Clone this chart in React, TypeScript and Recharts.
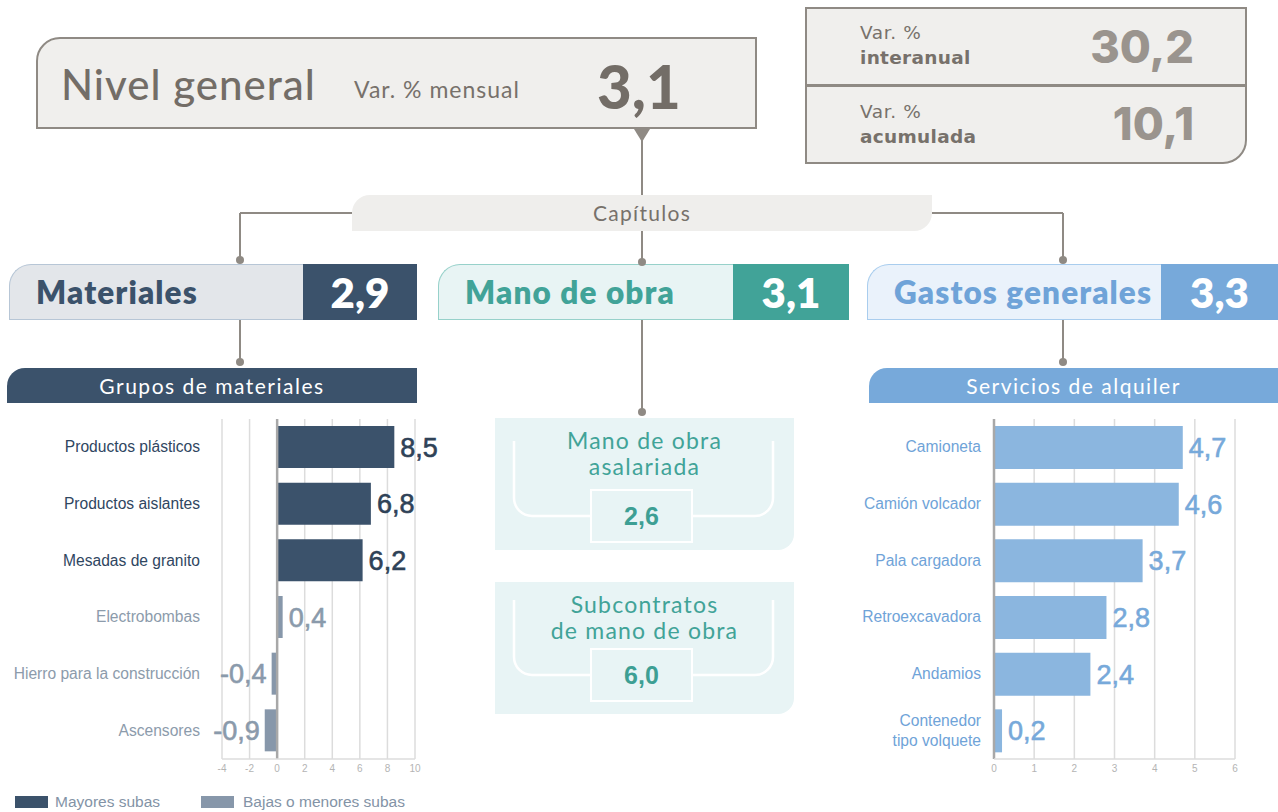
import { BarChart, Bar, XAxis, YAxis, CartesianGrid, ReferenceLine, Cell, LabelList } from 'recharts';

// valores del informe
const nivelGeneral = 3.1;
const varInteranual = 30.2;
const varAcumulada = 10.1;

const chapterNames = ['Materiales', 'Mano de obra', 'Gastos generales'];
const chapterValues = [2.9, 3.1, 3.3];

const materialCategories = [
  'Productos plásticos',
  'Productos aislantes',
  'Mesadas de granito',
  'Electrobombas',
  'Hierro para la construcción',
  'Ascensores',
];
const materialValues = [8.5, 6.8, 6.2, 0.4, -0.4, -0.9];
const materialGroups = ['mayores', 'mayores', 'mayores', 'menores', 'menores', 'menores'];
const materialTicks = [-4, -2, 0, 2, 4, 6, 8, 10];

const manoDeObraItems = ['Mano de obra\nasalariada', 'Subcontratos\nde mano de obra'];
const manoDeObraValues = [2.6, 6.0];

const alquilerCategories = [
  'Camioneta',
  'Camión volcador',
  'Pala cargadora',
  'Retroexcavadora',
  'Andamios',
  'Contenedor\ntipo volquete',
];
const alquilerValues = [4.7, 4.6, 3.7, 2.8, 2.4, 0.2];
const alquilerTicks = [0, 1, 2, 3, 4, 5, 6];

const legendLabels = ['Mayores subas', 'Bajas o menores subas'];

const materialData = materialCategories.map((name, i) => ({
  name,
  value: materialValues[i],
  group: materialGroups[i],
}));
const alquilerData = alquilerCategories.map((name, i) => ({ name, value: alquilerValues[i] }));

const fmt = (v: number) => v.toFixed(1).replace('.', ',');

const GREY = '#8f8a84';
const NAVY = '#3b526b';
const NAVY_LIGHT = '#8797aa';
const TEAL = '#41a398';
const BLUE = '#77a9da';
const BLUE_BAR = '#8bb6df';

const ROUND = 'Lato, sans-serif';
const WIDE = '"DejaVu Sans", sans-serif';
const NUM = 'Inter, sans-serif';
const ARIAL = '"Liberation Sans", Arial, sans-serif';

const MaterialTick = (props: any) => {
  const { x, y, payload } = props;
  const i = materialCategories.indexOf(payload.value);
  const dark = materialGroups[i] === 'mayores';
  return (
    <text x={x} y={y} dy={5} textAnchor="end" fontSize={15.6} fontFamily={ARIAL} fill={dark ? '#2f4661' : '#8c9bab'}>
      {payload.value}
    </text>
  );
};

const AlquilerTick = (props: any) => {
  const { x, y, payload } = props;
  const lines = String(payload.value).split('\n');
  const start = -((lines.length - 1) * 20) / 2;
  return (
    <text x={x} y={y} textAnchor="end" fontSize={15.6} fontFamily={ARIAL} fill="#6fa3d8">
      {lines.map((l, k) => (
        <tspan key={k} x={x} dy={k === 0 ? start + 5 : 20}>
          {l}
        </tspan>
      ))}
    </text>
  );
};

const valueLabel = (colorFor: (i: number) => string) => (props: any) => {
  const { x, y, width, height, value, index } = props;
  const left = Math.min(x, x + width);
  const right = Math.max(x, x + width);
  const neg = value < 0;
  const c = colorFor(index);
  return (
    <text
      x={neg ? left - 5 : right + 6}
      y={y + height / 2}
      dy={9.5}
      textAnchor={neg ? 'end' : 'start'}
      fontSize={27}
      fontFamily={ARIAL}
      fill={c}
      stroke={c}
      strokeWidth={0.6}
    >
      {fmt(value)}
    </text>
  );
};

const abs = (left: number, top: number, extra: any = {}) => ({ position: 'absolute' as const, left, top, ...extra });

const ChapterBox = ({ left, split, width, name, value, light, border, dark, text }: any) => (
  <div style={abs(left, 264, { width, height: 56, boxSizing: 'border-box' })}>
    <div
      style={abs(0, 0, {
        width: split,
        height: 56,
        background: light,
        border: `1.5px solid ${border}`,
        borderRight: 'none',
        borderTopLeftRadius: 22,
        boxSizing: 'border-box',
      })}
    />
    <div style={abs(split, 0, { width: width - split, height: 56, background: dark })} />
    <div style={abs(27, 0, { lineHeight: '56px', fontFamily: ROUND, fontWeight: 800, fontSize: 31.5, color: text, letterSpacing: 1.1 })}>
      {name}
    </div>
    <div
      style={abs(split, 0, {
        width: width - split,
        textAlign: 'center',
        lineHeight: '56px',
        fontFamily: ROUND,
        fontWeight: 800,
        fontSize: 42,
        color: '#fff',
      })}
    >
      {fmt(value)}
    </div>
  </div>
);

const SubHeader = ({ left, width, label, color }: any) => (
  <div
    style={abs(left, 368, {
      width,
      height: 35,
      background: color,
      borderTopLeftRadius: 18,
      color: '#fff',
      fontFamily: ROUND,
      fontSize: 21,
      lineHeight: '35px',
      textAlign: 'center',
      letterSpacing: 1.5,
    })}
  >
    {label}
  </div>
);

const ManoBox = ({ top, label, value }: any) => (
  <div style={abs(495, top, { width: 299, height: 132, background: '#e8f4f5', borderBottomRightRadius: 16 })}>
    <div
      style={abs(0, 10, {
        width: 299,
        textAlign: 'center',
        fontFamily: ROUND,
        fontSize: 23,
        lineHeight: '25.5px',
        color: TEAL,
        whiteSpace: 'pre-line',
        letterSpacing: 1.2,
      })}
    >
      {label}
    </div>
    <div
      style={abs(95, top === 418 ? 71 : 66, {
        width: 103,
        height: 54,
        boxSizing: 'border-box',
        border: '2.5px solid #fff',
        textAlign: 'center',
        lineHeight: '50px',
        fontFamily: ARIAL,
        fontWeight: 700,
        fontSize: 25,
        color: '#3d9f94',
      })}
    >
      {fmt(value)}
    </div>
  </div>
);

export default function App() {
  return (
    <div style={{ position: 'relative', width: 1278, height: 812, overflow: 'hidden', background: '#fff' }}>
      <style>{'body{margin:0}'}</style>

      {/* Nivel general */}
      <div
        style={abs(36, 37, {
          width: 721,
          height: 92,
          boxSizing: 'border-box',
          background: '#f0efed',
          border: `2.5px solid ${GREY}`,
          borderTopLeftRadius: 24,
        })}
      />
      <div style={abs(61, 55, { fontFamily: ROUND, fontSize: 42, fontWeight: 500, color: '#736d67', lineHeight: '58px', letterSpacing: 1 })}>
        Nivel general
      </div>
      <div style={abs(354, 74, { fontFamily: ROUND, fontSize: 23, color: '#77716b', lineHeight: '30px', letterSpacing: 1 })}>
        Var. % mensual
      </div>
      <div style={abs(597, 48, { fontFamily: ROUND, fontSize: 60, fontWeight: 900, color: '#736d67', lineHeight: '76px' })}>
        {fmt(nivelGeneral)}
      </div>

      {/* interanual / acumulada */}
      <div
        style={abs(805, 7, {
          width: 442,
          height: 157,
          boxSizing: 'border-box',
          background: '#f0efed',
          border: `2.5px solid ${GREY}`,
          borderBottomRightRadius: 24,
        })}
      />
      <div style={abs(806, 84, { width: 440, height: 2.5, background: GREY })} />
      {[
        { top: 20, label: 'interanual', value: varInteranual, vTop: 22 },
        { top: 99, label: 'acumulada', value: varAcumulada, vTop: 99 },
      ].map((r) => (
        <div key={r.label}>
          <div style={abs(860, r.top, { fontFamily: WIDE, fontSize: 18.5, color: '#77716b', lineHeight: '25px', letterSpacing: 0.6 })}>
            Var. %
          </div>
          <div
            style={abs(860, r.top + 25, {
              fontFamily: WIDE,
              fontSize: 18.5,
              fontWeight: 700,
              color: '#77716b',
              lineHeight: '25px',
              letterSpacing: 0.3,
            })}
          >
            {r.label}
          </div>
          <div
            style={abs(1000, r.vTop, {
              width: 194,
              textAlign: 'right',
              fontFamily: NUM,
              fontSize: 45,
              fontWeight: 800,
              color: '#9a948e',
              lineHeight: '50px',
            })}
          >
            {fmt(r.value)}
          </div>
        </div>
      ))}

      {/* Capítulos */}
      <div
        style={abs(352, 195, {
          width: 580,
          height: 36,
          background: '#efeeec',
          borderTopLeftRadius: 18,
          borderBottomRightRadius: 18,
          textAlign: 'center',
          lineHeight: '36px',
          fontFamily: ROUND,
          fontSize: 21,
          color: '#77716b',
          letterSpacing: 1.3,
        })}
      >
        Capítulos
      </div>

      <ChapterBox left={9} split={294} width={408} name={chapterNames[0]} value={chapterValues[0]} light="#e3e6ea" border="#b7c6d6" dark={NAVY} text={NAVY} />
      <ChapterBox left={438} split={295} width={411} name={chapterNames[1]} value={chapterValues[1]} light="#e8f4f4" border="#97d1ca" dark={TEAL} text={TEAL} />
      <ChapterBox left={867} split={294} width={411} name={chapterNames[2]} value={chapterValues[2]} light="#eaf2fb" border="#a9cdee" dark={BLUE} text="#6fa3d8" />

      <SubHeader left={7} width={410} label="Grupos de materiales" color={NAVY} />
      <SubHeader left={869} width={409} label="Servicios de alquiler" color={BLUE} />

      <ManoBox top={418} label={manoDeObraItems[0]} value={manoDeObraValues[0]} />
      <ManoBox top={582} label={manoDeObraItems[1]} value={manoDeObraValues[1]} />

      {/* conectores */}
      <svg width={1278} height={812} style={abs(0, 0, { pointerEvents: 'none' })}>
        <polygon points="634,129 650,129 642,142" fill={GREY} />
        <g stroke={GREY} strokeWidth={2} fill="none">
          <line x1={642} y1={140} x2={642} y2={195} />
          <line x1={642} y1={231} x2={642} y2={262} />
          <line x1={240} y1={213} x2={352} y2={213} />
          <line x1={932} y1={213} x2={1063} y2={213} />
          <line x1={240} y1={213} x2={240} y2={260} />
          <line x1={1063} y1={213} x2={1063} y2={260} />
          <line x1={240} y1={320} x2={240} y2={362} />
          <line x1={1063} y1={320} x2={1063} y2={362} />
          <line x1={642} y1={320} x2={642} y2={412} />
        </g>
        <g fill={GREY}>
          <circle cx={240} cy={260} r={4} />
          <circle cx={1063} cy={260} r={4} />
          <circle cx={642} cy={262} r={4} />
          <circle cx={240} cy={362} r={4} />
          <circle cx={1063} cy={362} r={4} />
          <circle cx={642} cy={412} r={4} />
        </g>
        <g stroke="#fff" strokeWidth={2.5} fill="none">
          <path d="M514,441 V498 A18,18 0 0 0 532,516 H590" />
          <path d="M693,516 H755 A18,18 0 0 0 773,498 V441" />
          <path d="M514,600 V657 A18,18 0 0 0 532,675 H590" />
          <path d="M693,675 H755 A18,18 0 0 0 773,657 V600" />
        </g>
      </svg>

      {/* Grupos de materiales */}
      <div style={abs(0, 419)}>
        <BarChart width={440} height={360} data={materialData} layout="vertical" margin={{ top: 0, right: 25, bottom: 0, left: 0 }}>
          <CartesianGrid horizontal={false} stroke="#dcdcdc" strokeWidth={1.5} />
          <XAxis
            type="number"
            domain={[-4, 10]}
            ticks={materialTicks}
            interval={0}
            height={20}
            axisLine={{ stroke: '#dcdcdc', strokeWidth: 1.5 }}
            tickLine={false}
            tickSize={0}
            tickMargin={6}
            tick={{ fontSize: 10, fill: '#b4b4b4', fontFamily: ARIAL }}
          />
          <YAxis type="category" dataKey="name" width={222} axisLine={false} tickLine={false} tickSize={0} tickMargin={22} tick={MaterialTick} />
          <ReferenceLine x={0} stroke="#a8a8a8" strokeWidth={2.5} />
          <Bar dataKey="value" barSize={42} isAnimationActive={false}>
            {materialData.map((d, i) => (
              <Cell key={i} fill={d.group === 'mayores' ? NAVY : NAVY_LIGHT} />
            ))}
            <LabelList dataKey="value" content={valueLabel((i) => (materialGroups[i] === 'mayores' ? '#2f4257' : '#8a9aab'))} />
          </Bar>
        </BarChart>
      </div>

      {/* Servicios de alquiler */}
      <div style={abs(840, 419)}>
        <BarChart width={438} height={360} data={alquilerData} layout="vertical" margin={{ top: 0, right: 43, bottom: 0, left: 0 }}>
          <CartesianGrid horizontal={false} stroke="#dcdcdc" strokeWidth={1.5} />
          <XAxis
            type="number"
            domain={[0, 6]}
            ticks={alquilerTicks}
            interval={0}
            height={20}
            axisLine={{ stroke: '#dcdcdc', strokeWidth: 1.5 }}
            tickLine={false}
            tickSize={0}
            tickMargin={6}
            tick={{ fontSize: 10, fill: '#b4b4b4', fontFamily: ARIAL }}
          />
          <YAxis type="category" dataKey="name" width={154} axisLine={false} tickLine={false} tickSize={0} tickMargin={13} tick={AlquilerTick} />
          <ReferenceLine x={0} stroke="#a8a8a8" strokeWidth={2.5} />
          <Bar dataKey="value" barSize={43} fill={BLUE_BAR} isAnimationActive={false}>
            <LabelList dataKey="value" content={valueLabel(() => BLUE)} />
          </Bar>
        </BarChart>
      </div>

      {/* leyenda */}
      {[
        { x: 15, tx: 55, color: NAVY },
        { x: 201, tx: 243, color: NAVY_LIGHT },
      ].map((l, i) => (
        <div key={i}>
          <div style={abs(l.x, 796, { width: 33, height: 12, background: l.color })} />
          <div style={abs(l.tx, 792, { fontFamily: ARIAL, fontSize: 15.5, color: '#8393a6', lineHeight: '20px' })}>{legendLabels[i]}</div>
        </div>
      ))}
    </div>
  );
}
